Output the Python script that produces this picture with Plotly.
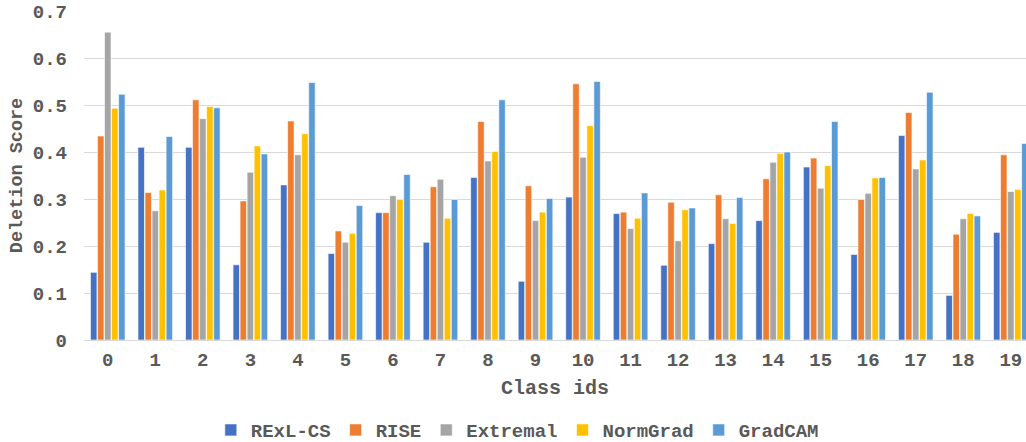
import plotly.graph_objects as go

categories = [str(i) for i in range(20)]

rexl_cs = [0.144, 0.410, 0.410, 0.160, 0.330, 0.184, 0.271, 0.208, 0.346, 0.125,
           0.304, 0.269, 0.159, 0.205, 0.254, 0.368, 0.182, 0.435, 0.095, 0.229]
rise = [0.434, 0.314, 0.511, 0.296, 0.466, 0.232, 0.271, 0.326, 0.465, 0.328,
        0.545, 0.272, 0.293, 0.309, 0.343, 0.387, 0.299, 0.484, 0.225, 0.394]
extremal = [0.655, 0.275, 0.471, 0.357, 0.394, 0.208, 0.307, 0.342, 0.381, 0.254,
            0.389, 0.237, 0.211, 0.258, 0.378, 0.323, 0.312, 0.364, 0.258, 0.316]
normgrad = [0.493, 0.319, 0.497, 0.413, 0.439, 0.227, 0.299, 0.259, 0.401, 0.272,
            0.456, 0.259, 0.277, 0.248, 0.397, 0.371, 0.345, 0.383, 0.269, 0.320]
gradcam = [0.523, 0.433, 0.494, 0.396, 0.548, 0.286, 0.352, 0.299, 0.511, 0.301,
           0.550, 0.313, 0.281, 0.303, 0.400, 0.465, 0.346, 0.527, 0.264, 0.418]

series_names = ["RExL-CS", "RISE", "Extremal", "NormGrad", "GradCAM"]
series_values = [rexl_cs, rise, extremal, normgrad, gradcam]
colors = ["#4472C4", "#ED7D31", "#A5A5A5", "#FFC000", "#5B9BD5"]

y_tickvals = [0, 0.1, 0.2, 0.3, 0.4, 0.5, 0.6, 0.7]
y_ticktext = ["0", "0.1", "0.2", "0.3", "0.4", "0.5", "0.6", "0.7"]

FONT = "Courier New, Liberation Mono, monospace"
TXT = "#595959"

fig = go.Figure()
for name, vals, col in zip(series_names, series_values, colors):
    fig.add_trace(go.Bar(
        x=categories, y=vals, name=name,
        marker=dict(color=col, line=dict(color="white", width=0.6)),
    ))

fig.update_layout(
    width=1026, height=442,
    margin=dict(l=84, r=0, t=11, b=102, autoexpand=False),
    paper_bgcolor="white", plot_bgcolor="white",
    barmode="group", bargap=0.26, bargroupgap=0.08,
    font=dict(family=FONT, color=TXT, size=19, weight="bold"),
    legend=dict(orientation="h", x=0.46, xanchor="center",
                yref="container", y=0.027, yanchor="middle",
                font=dict(family=FONT, size=19, color=TXT, weight="bold"),
                itemwidth=30, traceorder="normal"),
    xaxis=dict(
        range=[-0.5, 19.32], showgrid=False, showline=False, zeroline=False,
        automargin=False,
        tickfont=dict(family=FONT, size=19, color=TXT, weight="bold"),
        ticks="", ticklabelstandoff=6,
        title=dict(text="Class ids", font=dict(family=FONT, size=20, color=TXT, weight="bold"),
                   standoff=8),
    ),
    yaxis=dict(
        range=[0, 0.7], tickvals=y_tickvals, ticktext=y_ticktext,
        showgrid=True, gridcolor="#D9D9D9", gridwidth=1,
        zeroline=True, zerolinecolor="#D9D9D9", zerolinewidth=1,
        showline=False, ticks="", ticklabelstandoff=16, automargin=False,
        tickfont=dict(family=FONT, size=19, color=TXT, weight="bold"),
        title=dict(text="Deletion Score", font=dict(family=FONT, size=18.5, color=TXT, weight="bold"),
                   standoff=5),
    ),
)

fig.write_html("out.html", config={"displayModeBar": False},
               post_script="document.body.style.margin='0';document.body.style.overflow='hidden';")
